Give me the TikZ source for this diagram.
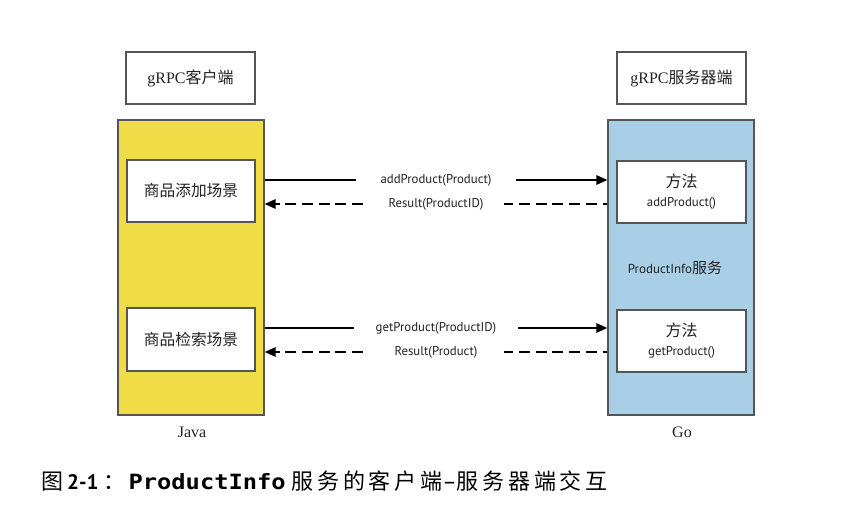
\documentclass[tikz,border=0pt]{standalone}
\usepackage{fontspec}
\setmainfont{Liberation Serif}
\newfontfamily\cjk{Noto Sans CJK SC}
\newfontfamily\cjkcap[LetterSpace=17]{Noto Sans CJK SC}
\newfontfamily\lbl{PT Sans}
\newfontfamily\capmono[FakeStretch=1.13]{DejaVu Sans Mono}
\usetikzlibrary{arrows.meta}
\definecolor{yelfill}{RGB}{240,220,70}
\definecolor{bluefill}{RGB}{168,207,230}
\definecolor{bordergray}{RGB}{85,85,85}
\definecolor{txt}{RGB}{34,34,34}
\tikzset{
  box/.style={draw=bordergray, line width=1.3pt, fill=white, inner sep=0pt, text=txt, align=center},
  panel/.style={draw=bordergray, line width=1.3pt, inner sep=0pt, minimum width=146pt, minimum height=295pt},
  conn/.style={line width=1.6pt, -{Triangle[length=11pt,width=9.5pt]}},
  ret/.style={conn, dash pattern=on 11pt off 5.7pt, dash phase=6.2pt},
  lab/.style={fill=white, text=txt, font=\lbl\fontsize{12.8}{15}\selectfont, inner ysep=1pt},
}
\begin{document}
\begin{tikzpicture}[x=1pt,y=-1pt]
\useasboundingbox[fill=white] (0,0) rectangle (843,519);
% headers
\node[box, minimum width=129pt, minimum height=52pt, font=\fontsize{16}{19}\selectfont] (ch) at (190.5,78) {gRPC{\cjk 客户端}};
\node[box, minimum width=129pt, minimum height=52pt, font=\fontsize{16}{19}\selectfont] (sh) at (681.5,78) {gRPC{\cjk 服务器端}};
% panels
\node[panel, fill=yelfill] (yel) at (191,267.5) {};
\node[panel, fill=bluefill] (blu) at (681,267.5) {};
% client boxes
\node[box, minimum width=128pt, minimum height=62pt, font=\cjk\fontsize{15.7}{18}\selectfont] (c1) at (191,191) {商品添加场景};
\node[box, minimum width=128pt, minimum height=63pt, font=\cjk\fontsize{15.7}{18}\selectfont] (c2) at (191,339.5) {商品检索场景};
% server boxes
\node[box, minimum width=129pt, minimum height=62pt, font=\fontsize{13}{19}\selectfont] (s1) at (681.5,192)
  {{\cjk\fontsize{16}{19}\selectfont 方法}\\{\lbl\fontsize{12.8}{19}\selectfont addProduct()}};
\node[box, minimum width=129pt, minimum height=62pt, font=\fontsize{13}{19}\selectfont] (s2) at (681.5,341)
  {{\cjk\fontsize{16}{19}\selectfont 方法}\\{\lbl\fontsize{12.8}{19}\selectfont getProduct()}};
\node[text=txt] (svc) at (675,268) {{\lbl\fontsize{13}{15}\selectfont ProductInfo}{\cjk\fontsize{15}{17}\selectfont 服务}};
% language labels
\node[text=txt, font=\fontsize{16}{18}\selectfont] (java) at (192,432) {Java};
\node[text=txt, font=\fontsize{16}{18}\selectfont] (go) at (682,432) {Go};
% connector rows
\coordinate (r1) at (437,180);
\coordinate (r2) at (435,204);
\coordinate (r3) at (436,328);
\coordinate (r4) at (434.5,352);
\draw[conn] (yel.east |- r1) -- node[lab, minimum width=160pt] {addProduct(Product)\hspace{11pt}} (blu.west |- r1);
\draw[ret] (blu.west |- r2) -- node[lab, minimum width=136pt] {Result(ProductID)\hspace{14pt}} (yel.east |- r2);
\draw[conn] (yel.east |- r3) -- node[lab, minimum width=164pt] {getProduct(ProductID)\hspace{14pt}} (blu.west |- r3);
\draw[ret] (blu.west |- r4) -- node[lab, minimum width=135pt] {Result(Product)\hspace{11pt}} (yel.east |- r4);
% caption
\node[anchor=base west, inner sep=0pt, text=black] (cap) at (41,489)
  {{\cjkcap\fontsize{22}{26}\selectfont 图}\hspace{4pt}{\lbl\bfseries\fontsize{21}{26}\selectfont 2-1}\hspace{5pt}{\cjk\fontsize{22}{26}\selectfont ：}\hspace{3pt}{\capmono\bfseries\fontsize{21}{26}\selectfont ProductInfo}\hspace{6pt}{\cjkcap\fontsize{22}{26}\selectfont 服务的客户端}{\lbl\fontsize{22}{26}\selectfont –}{\cjkcap\fontsize{22}{26}\selectfont 服务器端交互}};
\end{tikzpicture}
\end{document}
